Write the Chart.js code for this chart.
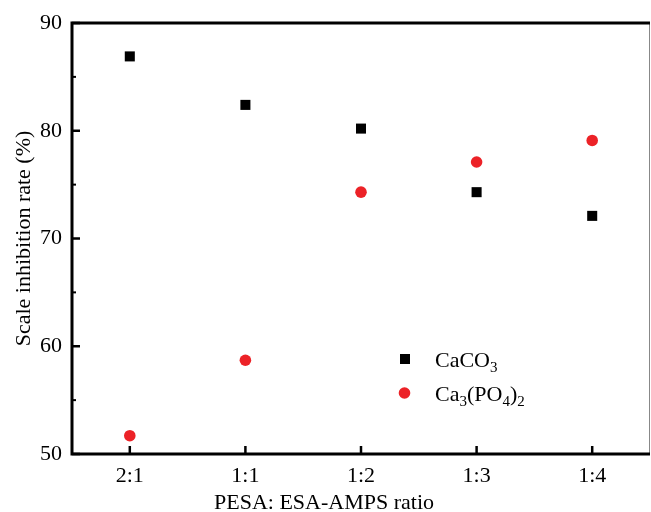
<!DOCTYPE html>
<html>
<head>
<meta charset="utf-8">
<script src="https://cdn.jsdelivr.net/npm/chart.js@4"></script>
<style>
html,body{margin:0;padding:0;background:#fff;overflow:hidden}
#wrap{width:651px;height:512px;position:relative}
#c{display:block}
</style>
</head>
<body>
<div id="wrap"><canvas id="c"></canvas></div>
<script>
// data
const ratios=['2:1','1:1','1:2','1:3','1:4'];
const caco3=[86.9,82.4,80.2,74.3,72.1];
const capo4=[51.7,58.7,74.3,77.1,79.1];
const yTicks=[50,60,70,80,90];
const yMinor=[55,65,75,85];
const seriesNames=[['CaCO','3'],['Ca','3','(PO','4',')','2']];
const xTitle='PESA: ESA-AMPS ratio';
const yTitle='Scale inhibition rate (%)';

const FONT='"Liberation Serif","Times New Roman",serif';

function noPad(s){s.paddingLeft=0;s.paddingRight=0;s.paddingTop=0;s.paddingBottom=0;}

// inside ticks, frame, axis titles
const framePlugin={
  id:'frame',
  afterDraw(ch){
    const {ctx,chartArea:a,scales:{x,y}}=ch;
    ctx.save();
    ctx.strokeStyle='#000';
    ctx.lineWidth=2.5;
    yTicks.forEach(v=>{const p=y.getPixelForValue(v);ctx.beginPath();ctx.moveTo(a.left,p);ctx.lineTo(a.left+8,p);ctx.stroke();});
    ctx.lineWidth=2;
    yMinor.forEach(v=>{const p=y.getPixelForValue(v);ctx.beginPath();ctx.moveTo(a.left,p);ctx.lineTo(a.left+4,p);ctx.stroke();});
    ctx.lineWidth=2.5;
    ratios.forEach((r,i)=>{const p=x.getPixelForValue(i);ctx.beginPath();ctx.moveTo(p,a.bottom);ctx.lineTo(p,a.bottom-8);ctx.stroke();});
    // right border thin gray
    ctx.strokeStyle='#888';ctx.lineWidth=1;
    ctx.beginPath();ctx.moveTo(a.right-0.5,a.top);ctx.lineTo(a.right-0.5,a.bottom);ctx.stroke();
    ctx.strokeStyle='#000';ctx.lineWidth=3;
    ctx.beginPath();ctx.moveTo(a.right,a.top);ctx.lineTo(a.left,a.top);ctx.lineTo(a.left,a.bottom);ctx.lineTo(a.right,a.bottom);ctx.stroke();
    // titles
    ctx.fillStyle='#000';
    ctx.font='22px '+FONT;
    ctx.textAlign='left';ctx.textBaseline='alphabetic';
    ctx.fillText(xTitle,214,509);
    ctx.translate(30,(a.top+a.bottom)/2);
    ctx.rotate(-Math.PI/2);
    ctx.textAlign='center';
    ctx.fillText(yTitle,0,0);
    ctx.restore();
  }
};

// legend with subscripts
const legendPlugin={
  id:'subLegend',
  afterDraw(ch){
    const {ctx}=ch;
    ctx.save();
    const rows=[359,393];
    ch.data.datasets.forEach((ds,i)=>{
      const cy=rows[i];
      ctx.fillStyle=ds.backgroundColor;
      if(ds.pointStyle==='rect'){ctx.fillRect(400,cy-5,10,10);}
      else{ctx.beginPath();ctx.arc(404.5,cy,5.8,0,Math.PI*2);ctx.fill();}
      ctx.fillStyle='#000';
      ctx.textBaseline='alphabetic';ctx.textAlign='left';
      let tx=435;
      seriesNames[i].forEach(part=>{
        const sub=/^\d$/.test(part);
        ctx.font=(sub?'15px ':'22px ')+FONT;
        ctx.fillText(part,tx,cy+8+(sub?5:0));
        tx+=ctx.measureText(part).width;
      });
    });
    ctx.restore();
  }
};

new Chart(document.getElementById('c'),{
  type:'line',
  data:{labels:ratios,datasets:[
    {label:'CaCO3',data:caco3,showLine:false,pointStyle:'rect',pointRadius:7.1,pointHoverRadius:7.1,backgroundColor:'#000',borderColor:'#000',borderWidth:0},
    {label:'Ca3(PO4)2',data:capo4,showLine:false,pointStyle:'circle',pointRadius:5.8,pointHoverRadius:5.8,backgroundColor:'#ec2227',borderColor:'#ec2227',borderWidth:0}
  ]},
  options:{
    responsive:true,maintainAspectRatio:false,animation:false,
    layout:{autoPadding:false,padding:{left:0,top:23,right:1,bottom:0}},
    plugins:{legend:{display:false},tooltip:{enabled:false}},
    scales:{
      x:{type:'category',offset:true,
        grid:{display:false,drawTicks:false},border:{display:false},
        ticks:{color:'#000',font:{family:FONT,size:22},padding:9},
        afterFit(s){s.height=58;noPad(s);}
      },
      y:{min:50,max:90,
        grid:{display:false,drawTicks:false},border:{display:false},
        ticks:{stepSize:10,color:'#000',font:{family:FONT,size:22},padding:10},
        afterFit(s){s.width=72;noPad(s);}
      }
    }
  },
  plugins:[framePlugin,legendPlugin]
});
</script>
</body>
</html>
